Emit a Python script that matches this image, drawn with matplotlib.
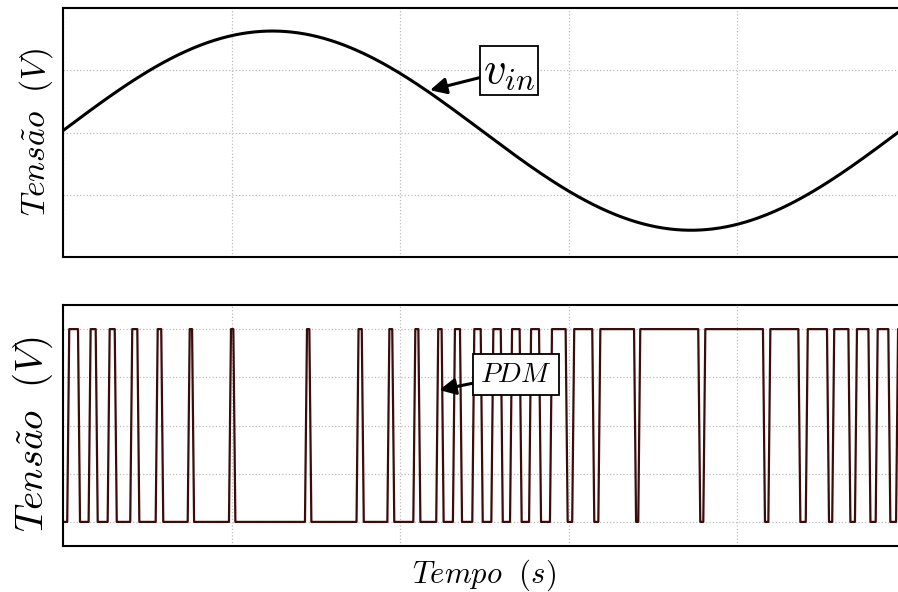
import matplotlib
matplotlib.use("Agg")
import matplotlib.pyplot as plt
import numpy as np

plt.rcParams["mathtext.fontset"] = "cm"
plt.rcParams["font.family"] = ["DejaVu Serif"]

# time axis in grid units (5 divisions shown)
T_END = 5.0

# input sine
VIN_AMP = 0.8
VIN_PERIOD = 4.97
VIN_OFFSET = 0.015

# PDM pulses: rising / falling edge times
PDM_RISE = [0.031, 0.158, 0.271, 0.405, 0.556, 0.746, 0.991, 1.442, 1.748, 1.931,
            2.085, 2.221, 2.320, 2.435, 2.548, 2.659, 2.772, 2.896, 3.028, 3.183,
            3.420, 3.806, 4.192, 4.414, 4.571, 4.706, 4.829, 4.950]
PDM_FALL = [0.095, 0.200, 0.313, 0.447, 0.589, 0.772, 1.017, 1.468, 1.779, 1.960,
            2.115, 2.253, 2.362, 2.485, 2.604, 2.716, 2.831, 2.989, 3.147, 3.395,
            3.776, 4.160, 4.370, 4.540, 4.667, 4.786, 4.904, 5.2]
PDM_HIGH = 1.0
PDM_LOW = -1.0
RAMP = 0.012

LINE_PDM = "#3a0c0c"
GRID_KW = dict(color="#bdbdbd", linestyle=":", linewidth=0.9)
ARROW_KW = dict(arrowstyle="-|>,head_length=0.7,head_width=0.35", color="black",
                lw=2.2, shrinkA=0, shrinkB=0, mutation_scale=14)


def pdm_wave():
    t = [0.0]
    v = [PDM_LOW]
    for r, f in zip(PDM_RISE, PDM_FALL):
        t += [r - RAMP / 2, r + RAMP / 2, f - RAMP / 2, f + RAMP / 2]
        v += [PDM_LOW, PDM_HIGH, PDM_HIGH, PDM_LOW]
    return np.array(t), np.array(v)


def style_axes(ax):
    ax.set_xlim(0, T_END)
    ax.set_xticks(np.arange(0, T_END + 0.1, 1.0))
    ax.tick_params(length=0, labelbottom=False, labelleft=False)
    ax.grid(True, **GRID_KW)
    ax.spines["right"].set_visible(False)
    for s in ["left", "top", "bottom"]:
        ax.spines[s].set_linewidth(1.5)


fig = plt.figure(figsize=(8.98, 5.92), dpi=100)
ax1 = fig.add_axes([63 / 898, 1 - 257 / 592, 842.5 / 898, 249 / 592])
ax2 = fig.add_axes([63 / 898, 1 - 546 / 592, 842.5 / 898, 241 / 592])

# top: v_in
t = np.linspace(0, T_END, 2000)
vin = VIN_AMP * np.sin(2 * np.pi * t / VIN_PERIOD) + VIN_OFFSET
ax1.plot(t, vin, color="black", linewidth=2.2)
style_axes(ax1)
ax1.set_ylim(-1, 1)
ax1.set_yticks([-0.5, 0, 0.5])
ax1.set_ylabel(r"$Tens\tilde{a}o\ \ (V)$", fontsize=24, labelpad=6)
ax1.annotate(r"$v_{in}$", xy=(2.178, 0.34), xytext=(2.647, 0.50),
             fontsize=32, ha="center", va="center",
             bbox=dict(boxstyle="square,pad=0.06", fc="white", ec="black", lw=1.3),
             arrowprops=ARROW_KW)

# bottom: PDM
tp, vp = pdm_wave()
ax2.plot(tp, vp, color=LINE_PDM, linewidth=1.6)
style_axes(ax2)
ax2.set_ylim(-1.25, 1.25)
ax2.set_yticks([-1, -0.5, 0, 0.5, 1])
ax2.set_ylabel(r"$Tens\tilde{a}o\ \ (V)$", fontsize=28)
ax2.yaxis.set_label_coords(-0.009, 0.465)
ax2.set_xlabel(r"$Tempo\ \ (s)$", fontsize=22, labelpad=8)
ax2.annotate(r"$PDM$", xy=(2.233, 0.368), xytext=(2.690, 0.53),
             fontsize=20, ha="center", va="center",
             bbox=dict(boxstyle="square,pad=0.25", fc="white", ec="black", lw=1.3),
             arrowprops=ARROW_KW)

fig.savefig("out.png", dpi=100)
